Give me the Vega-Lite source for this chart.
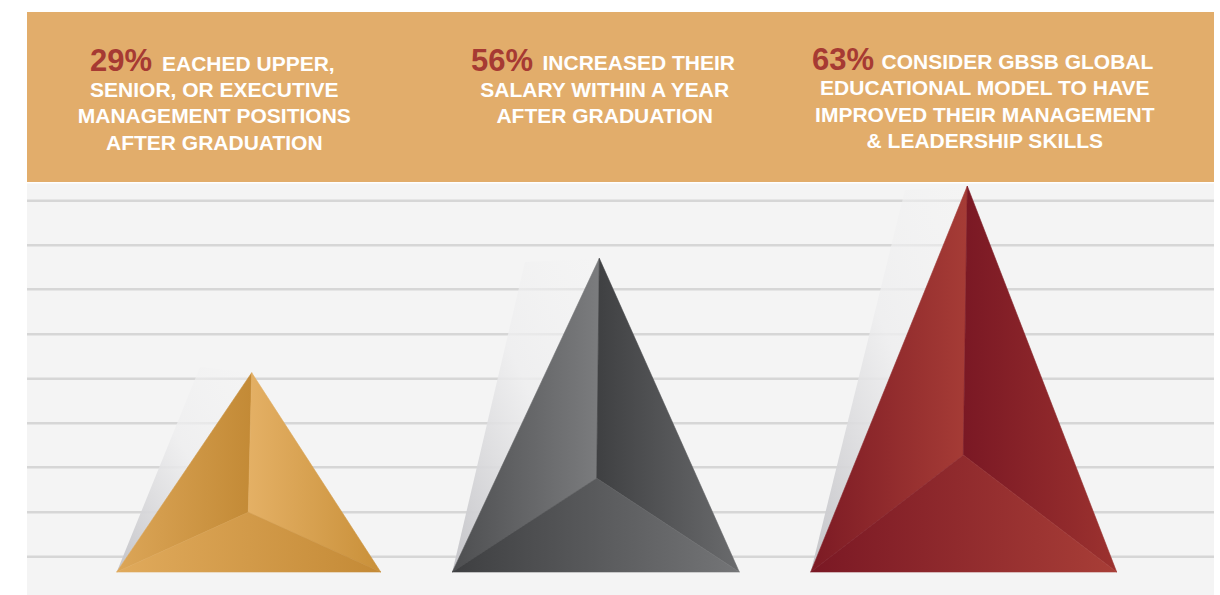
{
  "$schema": "https://vega.github.io/schema/vega-lite/v6.json",
  "width": 1220,
  "height": 595,
  "autosize": "none",
  "padding": 0,
  "background": "#FFFFFF",
  "view": {"stroke": null},
  "datasets": {
    "panels": [
      {"part": "banner", "x": 27, "x2": 1214, "y": 560, "y2": 390},
      {"part": "floor", "x": 27, "x2": 1214, "y": 388.5, "y2": -23}
    ],
    "margins": [
      {"part": "left", "x": 0, "x2": 27, "y": 388.5, "y2": -23},
      {"part": "right", "x": 1214, "x2": 1220, "y": 388.5, "y2": -23}
    ],
    "gridlines": [
      {"y": 371.3}, {"y": 326.7}, {"y": 282.7}, {"y": 237.7}, {"y": 193.3},
      {"y": 148.7}, {"y": 104.7}, {"y": 59.7}, {"y": 15.3}
    ],
    "shadows": [
      {"pyr": "gold", "ord": 1, "x": 200, "y": 205},
      {"pyr": "gold", "ord": 2, "x": 251.7, "y": 199.3},
      {"pyr": "gold", "ord": 3, "x": 116.7, "y": 0},
      {"pyr": "gray", "ord": 1, "x": 525, "y": 310},
      {"pyr": "gray", "ord": 2, "x": 599.3, "y": 313.7},
      {"pyr": "gray", "ord": 3, "x": 452.3, "y": 0},
      {"pyr": "red", "ord": 1, "x": 905, "y": 382},
      {"pyr": "red", "ord": 2, "x": 967.3, "y": 386},
      {"pyr": "red", "ord": 3, "x": 810.7, "y": 0}
    ],
    "faces": [
      {"pyr": "gold", "face": "left", "ord": 1, "x": 116.7, "y": 0},
      {"pyr": "gold", "face": "left", "ord": 2, "x": 251.7, "y": 199.3},
      {"pyr": "gold", "face": "left", "ord": 3, "x": 248.3, "y": 59.7},
      {"pyr": "gold", "face": "right", "ord": 1, "x": 251.7, "y": 199.3},
      {"pyr": "gold", "face": "right", "ord": 2, "x": 380.7, "y": 0},
      {"pyr": "gold", "face": "right", "ord": 3, "x": 248.3, "y": 59.7},
      {"pyr": "gold", "face": "bottom", "ord": 1, "x": 116.7, "y": 0},
      {"pyr": "gold", "face": "bottom", "ord": 2, "x": 248.3, "y": 59.7},
      {"pyr": "gold", "face": "bottom", "ord": 3, "x": 380.7, "y": 0},
      {"pyr": "gray", "face": "left", "ord": 1, "x": 452.3, "y": 0},
      {"pyr": "gray", "face": "left", "ord": 2, "x": 599.3, "y": 313.7},
      {"pyr": "gray", "face": "left", "ord": 3, "x": 596.7, "y": 93.7},
      {"pyr": "gray", "face": "right", "ord": 1, "x": 599.3, "y": 313.7},
      {"pyr": "gray", "face": "right", "ord": 2, "x": 739.3, "y": 0},
      {"pyr": "gray", "face": "right", "ord": 3, "x": 596.7, "y": 93.7},
      {"pyr": "gray", "face": "bottom", "ord": 1, "x": 452.3, "y": 0},
      {"pyr": "gray", "face": "bottom", "ord": 2, "x": 596.7, "y": 93.7},
      {"pyr": "gray", "face": "bottom", "ord": 3, "x": 739.3, "y": 0},
      {"pyr": "red", "face": "left", "ord": 1, "x": 810.7, "y": 0},
      {"pyr": "red", "face": "left", "ord": 2, "x": 967.3, "y": 386},
      {"pyr": "red", "face": "left", "ord": 3, "x": 963.3, "y": 117},
      {"pyr": "red", "face": "right", "ord": 1, "x": 967.3, "y": 386},
      {"pyr": "red", "face": "right", "ord": 2, "x": 1116.7, "y": 0},
      {"pyr": "red", "face": "right", "ord": 3, "x": 963.3, "y": 117},
      {"pyr": "red", "face": "bottom", "ord": 1, "x": 810.7, "y": 0},
      {"pyr": "red", "face": "bottom", "ord": 2, "x": 963.3, "y": 117},
      {"pyr": "red", "face": "bottom", "ord": 3, "x": 1116.7, "y": 0}
    ],
    "labels": [
      {"col": 1, "part": "pct", "x": 90, "y": 501.3, "text": "29%"},
      {"col": 1, "part": "head", "x": 162, "y": 501.5, "text": "EACHED UPPER,"},
      {"col": 1, "part": "body", "x": 214.3, "y": 475.3, "text": "SENIOR, OR EXECUTIVE"},
      {"col": 1, "part": "body", "x": 214.3, "y": 448.7, "text": "MANAGEMENT POSITIONS"},
      {"col": 1, "part": "body", "x": 214.3, "y": 422, "text": "AFTER GRADUATION"},
      {"col": 2, "part": "pct", "x": 471, "y": 501.3, "text": "56%"},
      {"col": 2, "part": "head", "x": 542.5, "y": 502, "text": "INCREASED THEIR"},
      {"col": 2, "part": "body", "x": 604.7, "y": 475.3, "text": "SALARY WITHIN A YEAR"},
      {"col": 2, "part": "body", "x": 604.7, "y": 448.7, "text": "AFTER GRADUATION"},
      {"col": 3, "part": "pct", "x": 812, "y": 502, "text": "63%"},
      {"col": 3, "part": "head", "x": 881.5, "y": 503, "text": "CONSIDER GBSB GLOBAL"},
      {"col": 3, "part": "body", "x": 984.8, "y": 477, "text": "EDUCATIONAL MODEL TO HAVE"},
      {"col": 3, "part": "body", "x": 984.8, "y": 450.3, "text": "IMPROVED THEIR MANAGEMENT"},
      {"col": 3, "part": "body", "x": 984.8, "y": 423.7, "text": "& LEADERSHIP SKILLS"}
    ]
  },
  "layer": [
    {
      "data": {"name": "panels"},
      "mark": {"type": "rect"},
      "encoding": {
        "x": {"field": "x", "type": "quantitative", "scale": {"domain": [0, 1220], "nice": false, "zero": false}, "axis": null},
        "x2": {"field": "x2"},
        "y": {"field": "y", "type": "quantitative", "scale": {"domain": [-23, 572], "nice": false, "zero": false}, "axis": null},
        "y2": {"field": "y2"},
        "color": {"field": "part", "type": "nominal", "scale": {"domain": ["banner", "floor"], "range": ["#E2AD6B", "#F4F4F4"]}, "legend": null}
      }
    },
    {
      "data": {"name": "gridlines"},
      "mark": {"type": "rule", "stroke": "#D6D6D6", "strokeWidth": 2.6},
      "encoding": {
        "y": {"field": "y", "type": "quantitative"}
      }
    },
    {
      "data": {"name": "margins"},
      "mark": {"type": "rect", "color": "#FFFFFF"},
      "encoding": {
        "x": {"field": "x", "type": "quantitative"},
        "x2": {"field": "x2"},
        "y": {"field": "y", "type": "quantitative"},
        "y2": {"field": "y2"}
      }
    },
    {
      "data": {"name": "shadows"},
      "mark": {"type": "line", "interpolate": "linear-closed", "strokeWidth": 0,
        "fill": {"gradient": "linear", "x1": 1, "y1": 0, "x2": 0, "y2": 1,
          "stops": [{"offset": 0, "color": "rgba(244,244,244,0.4)"}, {"offset": 0.45, "color": "rgba(238,238,239,0.85)"}, {"offset": 1, "color": "#C4C4C8"}]}},
      "encoding": {
        "x": {"field": "x", "type": "quantitative"},
        "y": {"field": "y", "type": "quantitative"},
        "detail": {"field": "pyr"},
        "order": {"field": "ord", "type": "quantitative"}
      }
    },
    {
      "data": {"name": "faces"},
      "transform": [{"filter": "datum.pyr === 'gold' && datum.face === 'left'"}],
      "mark": {"type": "line", "interpolate": "linear-closed", "strokeWidth": 0.6,
        "fill": {"gradient": "linear", "x1": 0, "y1": 0, "x2": 1, "y2": 0, "stops": [{"offset": 0, "color": "#DCA658"}, {"offset": 1, "color": "#C38A36"}]},
        "stroke": {"gradient": "linear", "x1": 0, "y1": 0, "x2": 1, "y2": 0, "stops": [{"offset": 0, "color": "#DCA658"}, {"offset": 1, "color": "#C38A36"}]}},
      "encoding": {"x": {"field": "x", "type": "quantitative"}, "y": {"field": "y", "type": "quantitative"}, "order": {"field": "ord", "type": "quantitative"}}
    },
    {
      "data": {"name": "faces"},
      "transform": [{"filter": "datum.pyr === 'gold' && datum.face === 'right'"}],
      "mark": {"type": "line", "interpolate": "linear-closed", "strokeWidth": 0.6,
        "fill": {"gradient": "linear", "x1": 0, "y1": 0, "x2": 1, "y2": 0, "stops": [{"offset": 0, "color": "#E4B065"}, {"offset": 1, "color": "#C99039"}]},
        "stroke": {"gradient": "linear", "x1": 0, "y1": 0, "x2": 1, "y2": 0, "stops": [{"offset": 0, "color": "#E4B065"}, {"offset": 1, "color": "#C99039"}]}},
      "encoding": {"x": {"field": "x", "type": "quantitative"}, "y": {"field": "y", "type": "quantitative"}, "order": {"field": "ord", "type": "quantitative"}}
    },
    {
      "data": {"name": "faces"},
      "transform": [{"filter": "datum.pyr === 'gold' && datum.face === 'bottom'"}],
      "mark": {"type": "line", "interpolate": "linear-closed", "strokeWidth": 0.6,
        "fill": {"gradient": "linear", "x1": 0, "y1": 0, "x2": 1, "y2": 0, "stops": [{"offset": 0, "color": "#E0AA5C"}, {"offset": 1, "color": "#C48A36"}]},
        "stroke": {"gradient": "linear", "x1": 0, "y1": 0, "x2": 1, "y2": 0, "stops": [{"offset": 0, "color": "#E0AA5C"}, {"offset": 1, "color": "#C48A36"}]}},
      "encoding": {"x": {"field": "x", "type": "quantitative"}, "y": {"field": "y", "type": "quantitative"}, "order": {"field": "ord", "type": "quantitative"}}
    },
    {
      "data": {"name": "faces"},
      "transform": [{"filter": "datum.pyr === 'gray' && datum.face === 'left'"}],
      "mark": {"type": "line", "interpolate": "linear-closed", "strokeWidth": 0.6,
        "fill": {"gradient": "linear", "x1": 0, "y1": 0, "x2": 1, "y2": 0, "stops": [{"offset": 0, "color": "#4D4E50"}, {"offset": 1, "color": "#7B7C7E"}]},
        "stroke": {"gradient": "linear", "x1": 0, "y1": 0, "x2": 1, "y2": 0, "stops": [{"offset": 0, "color": "#4D4E50"}, {"offset": 1, "color": "#7B7C7E"}]}},
      "encoding": {"x": {"field": "x", "type": "quantitative"}, "y": {"field": "y", "type": "quantitative"}, "order": {"field": "ord", "type": "quantitative"}}
    },
    {
      "data": {"name": "faces"},
      "transform": [{"filter": "datum.pyr === 'gray' && datum.face === 'right'"}],
      "mark": {"type": "line", "interpolate": "linear-closed", "strokeWidth": 0.6,
        "fill": {"gradient": "linear", "x1": 0, "y1": 0, "x2": 1, "y2": 0, "stops": [{"offset": 0, "color": "#3F4042"}, {"offset": 1, "color": "#6A6B6D"}]},
        "stroke": {"gradient": "linear", "x1": 0, "y1": 0, "x2": 1, "y2": 0, "stops": [{"offset": 0, "color": "#3F4042"}, {"offset": 1, "color": "#6A6B6D"}]}},
      "encoding": {"x": {"field": "x", "type": "quantitative"}, "y": {"field": "y", "type": "quantitative"}, "order": {"field": "ord", "type": "quantitative"}}
    },
    {
      "data": {"name": "faces"},
      "transform": [{"filter": "datum.pyr === 'gray' && datum.face === 'bottom'"}],
      "mark": {"type": "line", "interpolate": "linear-closed", "strokeWidth": 0.6,
        "fill": {"gradient": "linear", "x1": 0, "y1": 0, "x2": 1, "y2": 0, "stops": [{"offset": 0, "color": "#3E3F41"}, {"offset": 1, "color": "#747577"}]},
        "stroke": {"gradient": "linear", "x1": 0, "y1": 0, "x2": 1, "y2": 0, "stops": [{"offset": 0, "color": "#3E3F41"}, {"offset": 1, "color": "#747577"}]}},
      "encoding": {"x": {"field": "x", "type": "quantitative"}, "y": {"field": "y", "type": "quantitative"}, "order": {"field": "ord", "type": "quantitative"}}
    },
    {
      "data": {"name": "faces"},
      "transform": [{"filter": "datum.pyr === 'red' && datum.face === 'left'"}],
      "mark": {"type": "line", "interpolate": "linear-closed", "strokeWidth": 0.6,
        "fill": {"gradient": "linear", "x1": 0, "y1": 0, "x2": 1, "y2": 0, "stops": [{"offset": 0, "color": "#7C1A24"}, {"offset": 1, "color": "#A63C36"}]},
        "stroke": {"gradient": "linear", "x1": 0, "y1": 0, "x2": 1, "y2": 0, "stops": [{"offset": 0, "color": "#7C1A24"}, {"offset": 1, "color": "#A63C36"}]}},
      "encoding": {"x": {"field": "x", "type": "quantitative"}, "y": {"field": "y", "type": "quantitative"}, "order": {"field": "ord", "type": "quantitative"}}
    },
    {
      "data": {"name": "faces"},
      "transform": [{"filter": "datum.pyr === 'red' && datum.face === 'right'"}],
      "mark": {"type": "line", "interpolate": "linear-closed", "strokeWidth": 0.6,
        "fill": {"gradient": "linear", "x1": 0, "y1": 0, "x2": 1, "y2": 0, "stops": [{"offset": 0, "color": "#7A1824"}, {"offset": 1, "color": "#9C322F"}]},
        "stroke": {"gradient": "linear", "x1": 0, "y1": 0, "x2": 1, "y2": 0, "stops": [{"offset": 0, "color": "#7A1824"}, {"offset": 1, "color": "#9C322F"}]}},
      "encoding": {"x": {"field": "x", "type": "quantitative"}, "y": {"field": "y", "type": "quantitative"}, "order": {"field": "ord", "type": "quantitative"}}
    },
    {
      "data": {"name": "faces"},
      "transform": [{"filter": "datum.pyr === 'red' && datum.face === 'bottom'"}],
      "mark": {"type": "line", "interpolate": "linear-closed", "strokeWidth": 0.6,
        "fill": {"gradient": "linear", "x1": 0, "y1": 0, "x2": 1, "y2": 0, "stops": [{"offset": 0, "color": "#7A1824"}, {"offset": 1, "color": "#A83E37"}]},
        "stroke": {"gradient": "linear", "x1": 0, "y1": 0, "x2": 1, "y2": 0, "stops": [{"offset": 0, "color": "#7A1824"}, {"offset": 1, "color": "#A83E37"}]}},
      "encoding": {"x": {"field": "x", "type": "quantitative"}, "y": {"field": "y", "type": "quantitative"}, "order": {"field": "ord", "type": "quantitative"}}
    },
    {
      "data": {"name": "labels"},
      "transform": [{"filter": "datum.part === 'pct'"}],
      "mark": {"type": "text", "align": "left", "baseline": "alphabetic", "font": "Liberation Sans", "fontWeight": "bold", "fontSize": 31, "color": "#A63A33"},
      "encoding": {"x": {"field": "x", "type": "quantitative"}, "y": {"field": "y", "type": "quantitative"}, "text": {"field": "text"}}
    },
    {
      "data": {"name": "labels"},
      "transform": [{"filter": "datum.part === 'head'"}],
      "mark": {"type": "text", "align": "left", "baseline": "alphabetic", "font": "Liberation Sans", "fontWeight": "bold", "fontSize": 21, "color": "#FFFFFF"},
      "encoding": {"x": {"field": "x", "type": "quantitative"}, "y": {"field": "y", "type": "quantitative"}, "text": {"field": "text"}}
    },
    {
      "data": {"name": "labels"},
      "transform": [{"filter": "datum.part === 'body'"}],
      "mark": {"type": "text", "align": "center", "baseline": "alphabetic", "font": "Liberation Sans", "fontWeight": "bold", "fontSize": 21, "color": "#FFFFFF"},
      "encoding": {"x": {"field": "x", "type": "quantitative"}, "y": {"field": "y", "type": "quantitative"}, "text": {"field": "text"}}
    }
  ]
}
